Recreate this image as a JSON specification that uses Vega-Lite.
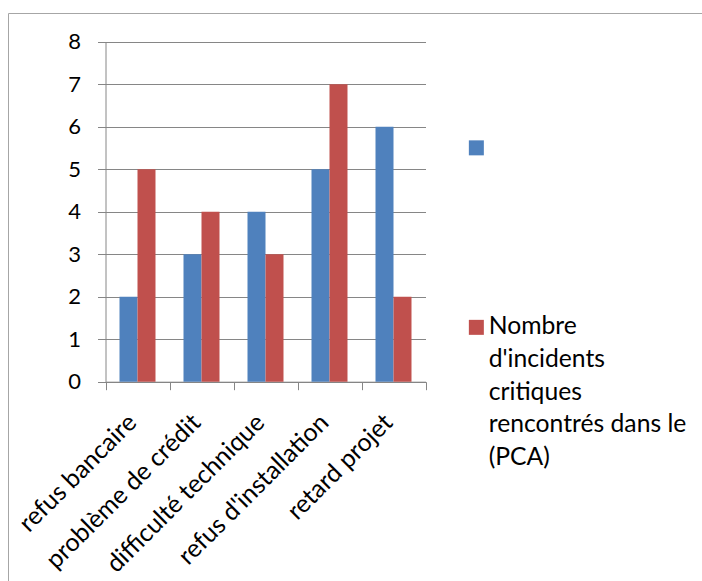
{
  "$schema": "https://vega.github.io/schema/vega-lite/v6.json",
  "autosize": {"type": "none"},
  "padding": {"left": 8, "top": 13, "right": 0, "bottom": 0},
  "width": 720,
  "height": 600,
  "background": "white",
  "config": {
    "view": {"stroke": "#A6A6A6", "strokeWidth": 1},
    "font": "Lato"
  },
  "data": {
    "values": [
      {"categorie": "refus bancaire", "serie": "", "valeur": 2},
      {"categorie": "refus bancaire", "serie": "Nombre d'incidents critiques rencontrés dans le (PCA)", "valeur": 5},
      {"categorie": "problème de crédit", "serie": "", "valeur": 3},
      {"categorie": "problème de crédit", "serie": "Nombre d'incidents critiques rencontrés dans le (PCA)", "valeur": 4},
      {"categorie": "difficulté technique", "serie": "", "valeur": 4},
      {"categorie": "difficulté technique", "serie": "Nombre d'incidents critiques rencontrés dans le (PCA)", "valeur": 3},
      {"categorie": "refus d'installation", "serie": "", "valeur": 5},
      {"categorie": "refus d'installation", "serie": "Nombre d'incidents critiques rencontrés dans le (PCA)", "valeur": 7},
      {"categorie": "retard projet", "serie": "", "valeur": 6},
      {"categorie": "retard projet", "serie": "Nombre d'incidents critiques rencontrés dans le (PCA)", "valeur": 2}
    ]
  },
  "mark": {"type": "bar"},
  "encoding": {
    "x": {
      "field": "categorie",
      "type": "nominal",
      "sort": null,
      "scale": {"range": [97.5, 417.5], "paddingInner": 0, "paddingOuter": 0},
      "axis": {
        "title": null,
        "orient": "bottom",
        "offset": -231.3,
        "labelAngle": -45,
        "labelAlign": "right",
        "labelBaseline": "alphabetic",
        "labelFontSize": 25,
        "labelColor": "#000000",
        "labelPadding": 34,
        "labelLimit": 400,
        "tickBand": "extent",
        "tickSize": 8,
        "tickColor": "#868686",
        "domainColor": "#868686",
        "grid": false
      }
    },
    "xOffset": {
      "field": "serie",
      "type": "nominal",
      "scale": {
        "domain": ["", "Nombre d'incidents critiques rencontrés dans le (PCA)"],
        "paddingInner": 0,
        "paddingOuter": 0.778
      }
    },
    "y": {
      "field": "valeur",
      "type": "quantitative",
      "scale": {"domain": [0, 8], "range": [368.7, 28.7], "nice": false},
      "axis": {
        "title": null,
        "offset": -97.5,
        "values": [0, 1, 2, 3, 4, 5, 6, 7, 8],
        "labelFontSize": 22,
        "labelColor": "#000000",
        "labelPadding": 17,
        "tickSize": 8,
        "tickColor": "#868686",
        "domainColor": "#868686",
        "grid": true,
        "gridColor": "#868686",
        "gridOpacity": 1
      }
    },
    "color": {
      "field": "serie",
      "type": "nominal",
      "scale": {
        "domain": ["", "Nombre d'incidents critiques rencontrés dans le (PCA)"],
        "range": ["#4F81BD", "#C0504D"]
      },
      "legend": {
        "title": null,
        "orient": "none",
        "legendX": 456,
        "legendY": 122.5,
        "symbolType": "square",
        "symbolSize": 225,
        "symbolStrokeWidth": 0,
        "labelFontSize": 24.7,
        "labelColor": "#000000",
        "labelOffset": 0,
        "labelLimit": 400,
        "rowPadding": 153.5,
        "labelExpr": "datum.value == '' ? '' : ['Nombre', \"d'incidents\", 'critiques', 'rencontrés dans le', '(PCA)']",
        "encode": {"labels": {"update": {"lineHeight": {"value": 32.6}}}}
      }
    }
  }
}
